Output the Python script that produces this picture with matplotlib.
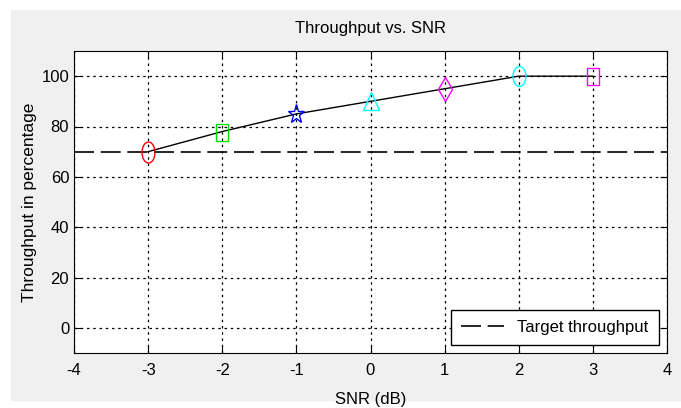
import matplotlib
matplotlib.use("Agg")
import matplotlib.pyplot as plt
from matplotlib.patches import Rectangle
from matplotlib.markers import MarkerStyle
from matplotlib.transforms import Affine2D

plt.rcParams['axes.unicode_minus'] = False

snr = [-3, -2, -1, 0, 1, 2, 3]
throughput = [70, 78, 85, 90, 95, 100, 100]
markers = ['o', 's', '*', '^', 'D', 'o', 's']
colors = ['red', '#00dd00', 'blue', 'cyan', 'magenta', 'cyan', 'magenta']
# marker box in pixels (width, height) as seen in the picture
marker_w = [13, 12, 16, 16, 13, 13, 12]
marker_h = [21, 17, 21, 18, 23, 20, 17]
target = 70
xticks = [-4, -3, -2, -1, 0, 1, 2, 3, 4]
yticks = [0, 20, 40, 60, 80, 100]

font = ['Liberation Sans', 'DejaVu Sans']

fig = plt.figure(figsize=(6.81, 4.08), dpi=100)
fig.patches.append(Rectangle((11 / 681, 1 - 400 / 408), 1, (400 - 10) / 408,
                             transform=fig.transFigure, color='#f0f0f0', zorder=-1))
ax = fig.add_axes([74 / 681, 1 - 353 / 408, (667 - 74) / 681, (353 - 51) / 408])

ax.plot(snr, throughput, color='black', linewidth=1, zorder=3)
for x, y, m, c, w, h in zip(snr, throughput, markers, colors, marker_w, marker_h):
    size = h * 0.72
    if m == 'D':
        size = size / 1.414
    ms = MarkerStyle(m, transform=Affine2D().scale(w / h, 1.0))
    ax.plot(x, y, marker=ms, markersize=size, markerfacecolor='none',
            markeredgecolor=c, markeredgewidth=1, linestyle='none', zorder=4)
ax.axhline(target, color='black', linestyle=(0, (12, 4)), linewidth=1.2,
           label='Target throughput', zorder=3)

ax.set_xlim(-4, 4)
ax.set_ylim(-10, 110)
ax.set_xticks(xticks)
ax.set_yticks(yticks)
ax.grid(True, color='black', linestyle=(0, (2, 3)), linewidth=0.9)
ax.tick_params(direction='in', top=True, right=True, length=5, labelsize=12)
ax.tick_params(axis='x', pad=7)
for lab in ax.get_xticklabels() + ax.get_yticklabels():
    lab.set_family(font)

ax.set_title('Throughput vs. SNR', fontsize=12, family=font, pad=13)
ax.set_xlabel('SNR (dB)', fontsize=12, family=font, labelpad=10)
ax.set_ylabel('Throughput in percentage', fontsize=12.5, family=font, labelpad=3)

leg = ax.legend(loc='lower right', fancybox=False, framealpha=1, edgecolor='black',
                prop={'family': font, 'size': 12}, handlelength=2.6, borderpad=0.6,
                borderaxespad=0.5)
leg.get_frame().set_linewidth(1)

plt.savefig('out.png', dpi=100)
